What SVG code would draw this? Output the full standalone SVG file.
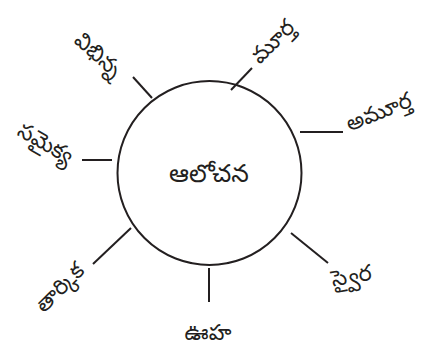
<svg xmlns="http://www.w3.org/2000/svg" width="424" height="356" viewBox="0 0 424 356">
<style>
.t{font-family:"Noto Sans Telugu","Noto Sans",sans-serif;font-size:22px;fill:#231f20;text-anchor:middle;dominant-baseline:central}
.c line{stroke:#231f20;stroke-width:2}
</style>
<rect width="424" height="356" fill="#fff"/>
<g id="center"><circle cx="209.5" cy="173" r="92" fill="none" stroke="#231f20" stroke-width="2"/><text class="t" x="209" y="177" style="font-size:25px">ఆలోచన</text></g>
<g class="c" id="connectors">
<line x1="133" y1="77" x2="152" y2="98"/>
<line x1="231" y1="90" x2="252" y2="68"/>
<line x1="300" y1="132" x2="343" y2="132"/>
<line x1="82" y1="160" x2="112" y2="160"/>
<line x1="93" y1="264" x2="131" y2="228"/>
<line x1="291" y1="233" x2="328" y2="263"/>
<line x1="209" y1="268" x2="209" y2="302"/>
</g>
<g id="n1"><text class="t" transform="translate(96,57) rotate(42)">విభిన్న</text></g>
<g id="n2"><text class="t" transform="translate(275,44) rotate(-45)">మూర్త</text></g>
<g id="n3"><text class="t" transform="translate(380,115) rotate(-22)">అమూర్త</text></g>
<g id="n4"><text class="t" transform="translate(44,146) rotate(30)">సమైక్య</text></g>
<g id="n5"><text class="t" transform="translate(62,290) rotate(-45)">తార్కిక</text></g>
<g id="n6"><text class="t" transform="translate(352,279) rotate(-10)">స్వైర</text></g>
<g id="n7"><text class="t" x="208" y="336">ఊహ</text></g>
</svg>
